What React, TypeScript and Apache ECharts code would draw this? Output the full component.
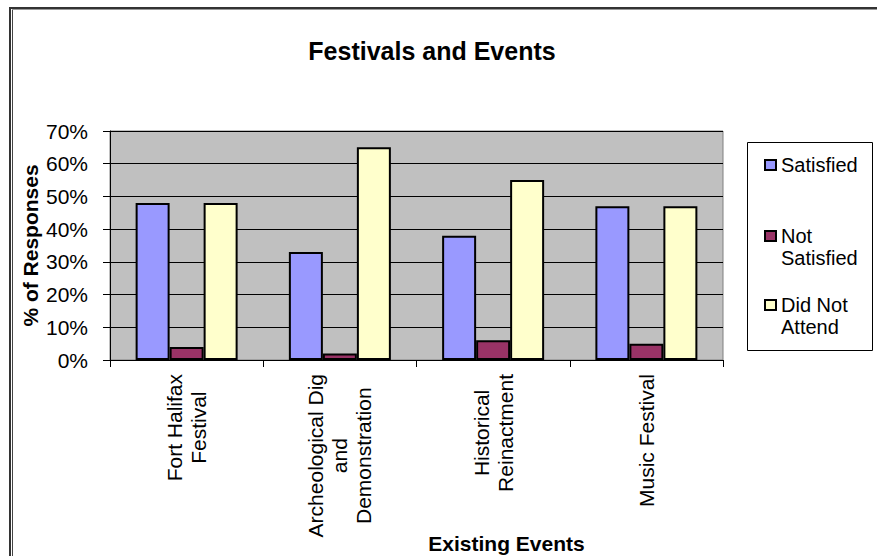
import React, { useEffect, useRef } from "react";
import * as echarts from "echarts";

const FONT = "'Liberation Sans', Arial, sans-serif";

// Event categories (line breaks as they wrap under the axis)
const categories = [
  "Fort Halifax\nFestival",
  "Archeological Dig\nand\nDemonstration",
  "Historical\nReinactment",
  "Music Festival",
];

// Share of responses, in percent
const satisfied = [48, 33, 38, 47];
const notSatisfied = [4, 2, 6, 5];
const didNotAttend = [48, 65, 55, 47];

const seriesNames = ["Satisfied", "Not Satisfied", "Did Not Attend"];
const seriesColors = ["#9999FF", "#993366", "#FFFFCC"];
const legendLines = ["Satisfied", "Not\nSatisfied", "Did Not\nAttend"];

const yTicks = { min: 0, max: 70, interval: 10 };

export default function App() {
  const ref = useRef<HTMLDivElement>(null);

  useEffect(() => {
    if (!ref.current) return;
    const chart = echarts.init(ref.current, null, { renderer: "svg" });

    const values = [satisfied, notSatisfied, didNotAttend];
    const legendCenters = [165, 236, 305];

    const legends = seriesNames.map((name, i) => {
      const multi = legendLines[i].includes("\n");
      return {
        data: [name],
        orient: "vertical",
        left: 764,
        top: multi ? legendCenters[i] - 33 : legendCenters[i] - 11,
        padding: 0,
        itemWidth: 11,
        itemHeight: 10,
        icon: "rect",
        selectedMode: false,
        // Leading blank line keeps the icon level with the first text line
        formatter: () => (multi ? " \n" + legendLines[i] : legendLines[i]),
        textStyle: {
          fontFamily: FONT,
          fontSize: 20,
          lineHeight: 22,
          color: "#000",
        },
      };
    });

    chart.setOption({
      animation: false,
      backgroundColor: "#fff",
      title: {
        text: "Festivals and Events",
        left: 427,
        top: 33,
        textAlign: "center",
        textStyle: {
          fontFamily: FONT,
          fontSize: 25,
          fontWeight: "bold",
          color: "#000",
        },
      },
      legend: legends,
      grid: {
        left: 110,
        top: 131,
        width: 613,
        height: 229,
        outerBoundsMode: "none",
        containLabel: false,
        show: true,
        backgroundColor: "#C0C0C0",
        borderColor: "#808080",
        borderWidth: 1,
      },
      xAxis: {
        type: "category",
        data: categories,
        name: "Existing Events",
        nameLocation: "middle",
        nameMoveOverlap: false,
        nameGap: 173,
        nameTextStyle: {
          fontFamily: FONT,
          fontSize: 21,
          fontWeight: "bold",
          color: "#000",
          padding: [0, 0, 0, 180],
        },
        axisLine: { lineStyle: { color: "#000", width: 1 } },
        axisTick: { show: true, length: 7, lineStyle: { color: "#000" } },
        axisLabel: {
          interval: 0,
          rotate: 90,
          margin: 14,
          formatter: (v: string) =>
            v
              .split("\n")
              .map((s) => `{c|${s}}`)
              .join("\n"),
          rich: {
            c: {
              fontFamily: FONT,
              fontSize: 21,
              lineHeight: 24,
              align: "center",
              color: "#000",
            },
          },
        },
      },
      yAxis: {
        type: "value",
        min: yTicks.min,
        max: yTicks.max,
        interval: yTicks.interval,
        name: "% of Responses",
        nameLocation: "middle",
        nameMoveOverlap: false,
        nameGap: 69,
        nameTextStyle: {
          fontFamily: FONT,
          fontSize: 21,
          fontWeight: "bold",
          color: "#000",
        },
        axisLine: { show: true, lineStyle: { color: "#000", width: 1 } },
        axisTick: { show: true, length: 7, lineStyle: { color: "#000" } },
        axisLabel: {
          margin: 22,
          formatter: "{value}%",
          fontFamily: FONT,
          fontSize: 21,
          color: "#000",
        },
        splitLine: { show: true, lineStyle: { color: "#000", width: 1 } },
      },
      series: seriesNames.map((name, i) => ({
        name,
        type: "bar",
        data: values[i],
        barWidth: 34,
        barGap: "0%",
        itemStyle: {
          color: seriesColors[i],
          borderColor: "#000",
          borderWidth: 2,
        },
      })),
      graphic: [
        {
          type: "rect",
          z: 1,
          shape: { x: 747.5, y: 142.5, width: 125, height: 208 },
          style: { fill: "#fff", stroke: "#000", lineWidth: 1 },
        },
        {
          type: "rect",
          z: 10,
          shape: { x: 10, y: 8, width: 900, height: 600 },
          style: { fill: "none", stroke: "#333", lineWidth: 2 },
        },
        {
          type: "line",
          z: 10,
          shape: { x1: 12.5, y1: 10, x2: 12.5, y2: 556 },
          style: { stroke: "#444", lineWidth: 1 },
        },
        {
          type: "line",
          z: 10,
          shape: { x1: 12, y1: 9.5, x2: 877, y2: 9.5 },
          style: { stroke: "#999", lineWidth: 1 },
        },
      ],
    });

    return () => chart.dispose();
  }, []);

  return (
    <div
      ref={ref}
      style={{ position: "fixed", left: 0, top: 0, width: 877, height: 556 }}
    />
  );
}
